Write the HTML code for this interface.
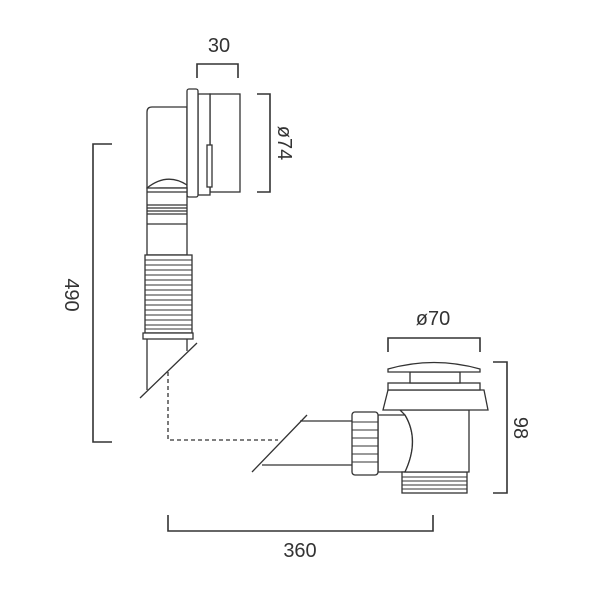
<!DOCTYPE html>
<html><head><meta charset="utf-8"><style>
html,body{margin:0;padding:0;background:#fff;width:600px;height:600px;overflow:hidden}
text{font-family:"Liberation Sans",sans-serif;fill:#333;font-size:20px}
</style></head><body>
<svg width="600" height="600" viewBox="0 0 600 600" xmlns="http://www.w3.org/2000/svg">
<g fill="none" stroke="#333" stroke-width="1.6">
<!-- dims -->
<polyline points="197,78 197,64 238,64 238,78"/>
<polyline points="257,94 270,94 270,192 257,192"/>
<polyline points="112,144 93,144 93,442 112,442"/>
<polyline points="388,352 388,338 480,338 480,352"/>
<polyline points="493,362 507,362 507,493 493,493"/>
<polyline points="168,515 168,531 433,531 433,515"/>
</g>
<g fill="#fff" stroke="#333" stroke-width="1.3">
<!-- upper fitting -->
<path d="M147,188 L147,112 Q147,107 152,107 L187,107 L187,188 Z"/>
<path d="M147,188 Q167,172 187,185"/>
<rect x="210" y="94" width="30" height="98"/>
<rect x="198" y="94" width="12" height="101"/>
<rect x="187" y="89" width="11" height="108" rx="2"/>
<rect x="207" y="145" width="5" height="42"/>
<rect x="147" y="188" width="40" height="67"/>
<line x1="147" y1="192" x2="187" y2="192"/>
<line x1="147" y1="205" x2="187" y2="205"/>
<line x1="147" y1="208" x2="187" y2="208"/>
<line x1="147" y1="211" x2="187" y2="211"/>
<line x1="147" y1="214" x2="187" y2="214"/>
<line x1="147" y1="224" x2="187" y2="224"/>
<!-- corrugated -->
<rect x="145" y="255" width="47" height="78"/>
<g stroke-width="1">
<line x1="145" y1="260" x2="192" y2="260"/><line x1="145" y1="265" x2="192" y2="265"/>
<line x1="145" y1="270" x2="192" y2="270"/><line x1="145" y1="275" x2="192" y2="275"/>
<line x1="145" y1="280" x2="192" y2="280"/><line x1="145" y1="285" x2="192" y2="285"/>
<line x1="145" y1="290" x2="192" y2="290"/><line x1="145" y1="295" x2="192" y2="295"/>
<line x1="145" y1="300" x2="192" y2="300"/><line x1="145" y1="305" x2="192" y2="305"/>
<line x1="145" y1="310" x2="192" y2="310"/><line x1="145" y1="315" x2="192" y2="315"/>
<line x1="145" y1="320" x2="192" y2="320"/><line x1="145" y1="325" x2="192" y2="325"/>
<line x1="145" y1="329" x2="192" y2="329"/>
</g>
<rect x="143" y="333" width="50" height="6"/>
<line x1="147" y1="339" x2="147" y2="390"/>
<line x1="187" y1="339" x2="187" y2="351"/>
<line x1="197" y1="343" x2="140" y2="398"/>
<!-- lower pipe -->
<line x1="300" y1="421" x2="352" y2="421"/>
<line x1="262" y1="465" x2="352" y2="465"/>
<line x1="307" y1="415" x2="252" y2="472"/>
<!-- waste body -->
<path d="M378,415 L405,415 Q420,440 405,472 L378,472 Z"/>
<rect x="402" y="472" width="65" height="21"/>
<g stroke-width="1"><line x1="402" y1="477" x2="467" y2="477"/><line x1="402" y1="481" x2="467" y2="481"/><line x1="402" y1="485" x2="467" y2="485"/><line x1="402" y1="489" x2="467" y2="489"/></g>
<path d="M400,410 L469,410 L469,472 L405,472 Q420,440 405,415 Z"/>
<path d="M388,390 L484,390 L488,410 L383,410 Z"/>
<rect x="388" y="383" width="92" height="7"/>
<rect x="410" y="372" width="50" height="11"/>
<path d="M388,372 L388,369 Q434,356 480,369 L480,372 Z"/>
<rect x="352" y="412" width="26" height="63" rx="3"/>
<g stroke-width="1"><line x1="352" y1="422" x2="378" y2="422"/><line x1="352" y1="430" x2="378" y2="430"/><line x1="352" y1="438" x2="378" y2="438"/><line x1="352" y1="446" x2="378" y2="446"/><line x1="352" y1="454" x2="378" y2="454"/><line x1="352" y1="462" x2="378" y2="462"/></g>
</g>
<path d="M168,372 L168,440 L278,440" fill="none" stroke="#333" stroke-width="1.3" stroke-dasharray="4,3"/>
<text x="219" y="52" text-anchor="middle">30</text>
<text x="433" y="325" text-anchor="middle">ø70</text>
<text x="300" y="557" text-anchor="middle">360</text>
<text transform="translate(278,143) rotate(90)" text-anchor="middle">ø74</text>
<text transform="translate(65,295) rotate(90)" text-anchor="middle">490</text>
<text transform="translate(514,428) rotate(90)" text-anchor="middle">98</text>
</svg>
</body></html>
